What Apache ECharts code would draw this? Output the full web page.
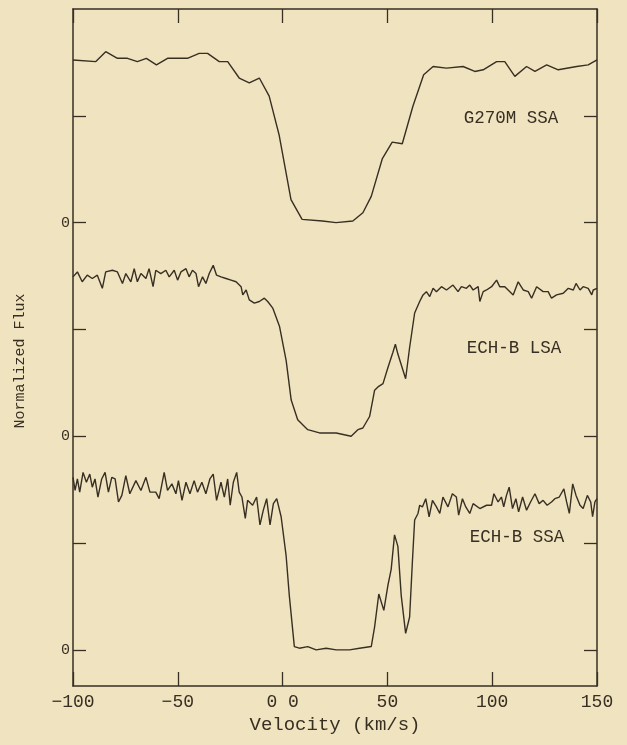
<!DOCTYPE html>
<html>
<head>
<meta charset="utf-8">
<script src="https://cdn.jsdelivr.net/npm/echarts@6/dist/echarts.min.js"></script>
<style>
  html, body { margin: 0; padding: 0; background: #efe3c0; }
  #chart { width: 627px; height: 745px; }
</style>
</head>
<body>
<div id="chart"></div>
<script>
// Velocity grid (km/s) and normalized flux for each spectrum
const velG270 = [-100, -89.1, -84.4, -78.8, -74.0, -69.3, -65.0, -60.2, -54.9, -45.4,
  -39.8, -35.8, -30.2, -26.2, -20.7, -15.9, -11.1, -6.4, -1.6, 4.0,
  9.3, 19.0, 25.5, 33.5, 38.3, 42.3, 47.6, 52.3, 57.1, 62.2,
  67.3, 71.8, 78.2, 86.1, 91.7, 95.7, 102.1, 106.0, 110.8, 116.4,
  120.4, 126.0, 131.5, 140.3, 145.8, 150];
const fluxG270 = [0.99, 0.98, 1.04, 1.00, 1.00, 0.98, 1.00, 0.96, 1.00, 1.00,
  1.03, 1.03, 0.98, 0.98, 0.88, 0.85, 0.88, 0.77, 0.53, 0.14,
  0.02, 0.01, 0.00, 0.01, 0.06, 0.16, 0.39, 0.49, 0.48, 0.71,
  0.90, 0.95, 0.94, 0.95, 0.92, 0.93, 0.98, 0.98, 0.89, 0.95,
  0.92, 0.96, 0.93, 0.95, 0.96, 0.99];

const velLSA = [-100, -97.9, -95.6, -93.2, -90.8, -88.4, -86.0, -84.4, -81.2, -78.8,
  -76.4, -74.8, -72.4, -70.8, -69.3, -67.6, -65.2, -63.7, -61.8, -60.5,
  -58.1, -55.7, -54.1, -51.7, -50.1, -48.5, -46.1, -44.6, -43.0, -41.3,
  -40.1, -38.2, -36.6, -35.0, -33.1, -31.5, -29.4, -27.0, -24.6, -22.2,
  -19.8, -19.0, -17.4, -15.9, -13.5, -11.1, -8.7, -7.1, -4.7, -1.5,
  1.7, 4.1, 7.2, 12.0, 17.6, 25.6, 32.7, 35.9, 38.3, 41.5,
  43.9, 45.5, 47.9, 50.3, 52.6, 53.8, 55.0, 58.7, 60.6, 63.0,
  65.4, 67.0, 68.6, 70.2, 71.8, 73.4, 75.8, 78.2, 81.3, 83.7,
  85.3, 87.7, 89.3, 90.9, 93.3, 94.1, 95.7, 97.3, 99.7, 102.1,
  103.6, 106.0, 107.6, 110.0, 112.4, 114.8, 117.2, 118.8, 121.2, 124.3,
  126.7, 128.3, 130.7, 133.9, 136.3, 138.7, 140.0, 141.9, 143.4, 145.8,
  147.5, 148.2, 150];
const fluxLSA = [0.97, 1.00, 0.94, 0.98, 0.96, 0.98, 0.90, 1.00, 1.01, 1.00,
  0.93, 0.99, 0.94, 1.02, 0.94, 0.99, 0.96, 1.02, 0.91, 1.01,
  0.99, 1.01, 0.97, 1.01, 0.95, 1.00, 1.02, 0.97, 1.01, 0.99,
  0.91, 0.97, 0.93, 0.99, 1.04, 0.98, 0.97, 0.96, 0.95, 0.94,
  0.91, 0.86, 0.89, 0.83, 0.81, 0.82, 0.84, 0.82, 0.78, 0.67,
  0.46, 0.22, 0.10, 0.04, 0.02, 0.02, 0.00, 0.04, 0.05, 0.12,
  0.28, 0.30, 0.32, 0.42, 0.51, 0.56, 0.50, 0.35, 0.54, 0.75,
  0.82, 0.86, 0.88, 0.85, 0.90, 0.88, 0.91, 0.89, 0.92, 0.88,
  0.91, 0.90, 0.92, 0.89, 0.91, 0.82, 0.88, 0.89, 0.91, 0.95,
  0.91, 0.91, 0.89, 0.86, 0.94, 0.89, 0.88, 0.84, 0.91, 0.88,
  0.88, 0.84, 0.86, 0.87, 0.90, 0.89, 0.93, 0.89, 0.91, 0.90,
  0.86, 0.89, 0.90];

const velSSA = [-100, -99.0, -97.9, -96.8, -95.2, -93.6, -92.0, -90.8, -89.5, -88.1,
  -86.3, -84.7, -83.1, -81.5, -79.9, -78.3, -76.7, -74.8, -72.9, -70.0,
  -67.6, -65.2, -63.3, -60.5, -58.9, -56.5, -54.9, -52.8, -50.9, -49.7,
  -48.0, -46.1, -44.2, -42.2, -40.6, -38.5, -36.6, -34.7, -33.1, -31.5,
  -29.4, -27.8, -26.2, -25.0, -23.5, -21.9, -20.7, -19.4, -17.8, -16.7,
  -14.3, -12.4, -10.8, -9.2, -7.6, -6.0, -4.4, -2.8, -0.7, 1.7,
  3.2, 5.6, 8.0, 12.0, 16.0, 20.8, 25.6, 31.9, 36.7, 42.3,
  43.9, 45.9, 48.3, 50.2, 51.8, 53.4, 55.0, 56.6, 58.7, 60.6,
  61.9, 63.0, 64.6, 65.4, 66.7, 68.3, 69.9, 71.5, 73.4, 75.0,
  76.5, 78.9, 81.0, 82.9, 84.0, 85.8, 87.4, 89.3, 90.9, 94.1,
  97.3, 99.7, 100.8, 102.8, 104.4, 105.5, 106.8, 108.1, 109.7, 111.3,
  112.6, 114.5, 116.4, 118.3, 120.4, 122.4, 124.3, 126.2, 128.3, 129.9,
  132.0, 134.2, 135.5, 136.8, 138.4, 140.0, 141.9, 143.4, 145.4, 147.0,
  147.9, 149.0, 150];
const fluxSSA = [1.05, 0.97, 1.04, 0.96, 1.08, 1.02, 1.07, 0.99, 1.04, 0.93,
  1.04, 1.08, 0.96, 1.05, 1.04, 0.90, 0.94, 1.06, 0.95, 1.03,
  0.97, 1.05, 0.96, 0.96, 0.92, 1.08, 0.97, 1.01, 0.95, 1.03,
  0.91, 1.02, 0.95, 1.03, 0.96, 1.02, 0.95, 1.04, 1.07, 0.91,
  1.02, 0.93, 1.04, 0.88, 1.02, 1.08, 0.96, 0.93, 0.80, 0.91,
  0.88, 0.93, 0.76, 0.85, 0.92, 0.76, 0.89, 0.92, 0.81, 0.57,
  0.33, 0.02, 0.01, 0.02, 0.00, 0.01, 0.00, 0.00, 0.01, 0.02,
  0.14, 0.34, 0.24, 0.39, 0.49, 0.70, 0.63, 0.33, 0.10, 0.20,
  0.53, 0.79, 0.83, 0.88, 0.87, 0.92, 0.81, 0.91, 0.87, 0.83,
  0.93, 0.87, 0.95, 0.93, 0.82, 0.92, 0.87, 0.83, 0.89, 0.86,
  0.88, 0.88, 0.95, 0.90, 0.93, 0.87, 0.94, 0.99, 0.86, 0.92,
  0.84, 0.93, 0.85, 0.90, 0.95, 0.89, 0.91, 0.88, 0.90, 0.92,
  0.93, 0.98, 0.90, 0.83, 1.01, 0.94, 0.88, 0.86, 0.94, 0.90,
  0.81, 0.90, 0.92];

// Vertical offsets: each spectrum sits on its own zero level
const zeroLevels = [2.6, 1.3, 0];
const seriesNames = ['G270M SSA', 'ECH-B LSA', 'ECH-B SSA'];
const xTickLabels = { '-100': '\u2212100', '-50': '\u221250', '0': '0 0', '50': '50', '100': '100', '150': '150' };
const yTickValues = [0, 0.65, 1.3, 1.95, 2.6, 3.25];
const yLabelValues = [0, 1.3, 2.6];

const ink = '#382f23';
const monoFont = '"Liberation Mono", "DejaVu Sans Mono", monospace';

function shifted(vel, flux, off) {
  return vel.map((v, i) => [v, flux[i] + off]);
}

const spectra = [
  shifted(velG270, fluxG270, zeroLevels[0]),
  shifted(velLSA, fluxLSA, zeroLevels[1]),
  shifted(velSSA, fluxSSA, zeroLevels[2])
];

const chart = echarts.init(document.getElementById('chart'), null, { renderer: 'canvas' });

const baseX = {
  type: 'value', min: -100, max: 150, interval: 50,
  axisLine: { show: true, onZero: false, lineStyle: { color: ink, width: 1.5 } },
  axisTick: { show: true, inside: true, length: 14, lineStyle: { color: ink, width: 1.3 } },
  splitLine: { show: false }
};
const baseY = {
  type: 'value', min: -0.22, max: 3.9,
  axisLine: { show: true, onZero: false, lineStyle: { color: ink, width: 1.5 } },
  axisTick: { show: true, inside: true, length: 13, customValues: yTickValues, lineStyle: { color: ink, width: 1.3 } },
  splitLine: { show: false }
};

chart.setOption({
  backgroundColor: '#efe3c0',
  animation: false,
  grid: { left: 73, right: 30, top: 9, bottom: 59, containLabel: false },
  xAxis: [
    Object.assign({}, baseX, {
      position: 'bottom',
      name: 'Velocity (km/s)', nameLocation: 'middle', nameGap: 29,
      nameTextStyle: { fontFamily: monoFont, fontSize: 19, color: ink },
      axisLabel: {
        show: true, margin: 7, color: ink, fontFamily: monoFont, fontSize: 18,
        formatter: v => xTickLabels[String(v)] || String(v)
      }
    }),
    Object.assign({}, baseX, { position: 'top', axisLabel: { show: false } })
  ],
  yAxis: [
    Object.assign({}, baseY, {
      position: 'left',
      axisLabel: {
        show: true, margin: 3, customValues: yLabelValues, color: ink,
        fontFamily: monoFont, fontSize: 15, formatter: () => '0'
      }
    }),
    Object.assign({}, baseY, { position: 'right', axisLabel: { show: false } })
  ],
  series: spectra.map((d, i) => ({
    name: seriesNames[i],
    type: 'line',
    data: d,
    symbol: 'none',
    smooth: false,
    lineStyle: { color: ink, width: 1.4 },
    xAxisIndex: 0, yAxisIndex: 0
  })),
  graphic: [
    { type: 'text', x: 20, y: 361, rotation: Math.PI / 2,
      style: { text: 'Normalized Flux', fill: ink, font: '15px ' + monoFont, align: 'center', verticalAlign: 'middle' } },
    { type: 'text', x: 511, y: 118,
      style: { text: seriesNames[0], fill: ink, font: '17.5px ' + monoFont, align: 'center', verticalAlign: 'middle' } },
    { type: 'text', x: 514, y: 348,
      style: { text: seriesNames[1], fill: ink, font: '17.5px ' + monoFont, align: 'center', verticalAlign: 'middle' } },
    { type: 'text', x: 517, y: 537,
      style: { text: seriesNames[2], fill: ink, font: '17.5px ' + monoFont, align: 'center', verticalAlign: 'middle' } }
  ]
});
</script>
</body>
</html>
